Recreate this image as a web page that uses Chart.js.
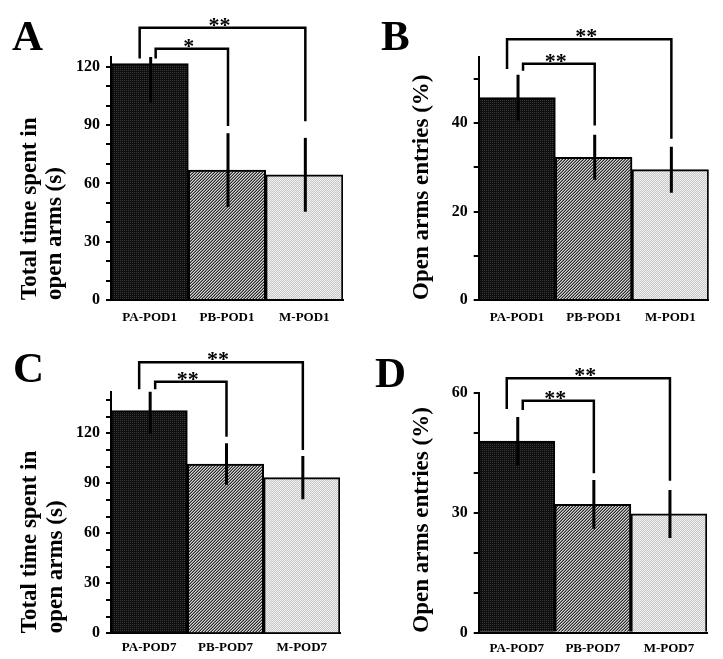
<!DOCTYPE html>
<html>
<head>
<meta charset="utf-8">
<script src="https://cdn.jsdelivr.net/npm/chart.js@4.4.1/dist/chart.umd.min.js"></script>
<style>
    body { margin: 0; background: #fff; }
    #wrap { position: relative; width: 723px; height: 659px; }
    canvas { position: absolute; }
</style>
</head>
<body>
<div id="wrap">
    <canvas id="chartA" width="362" height="330" style="left:0;top:0;"></canvas>
    <canvas id="chartB" width="361" height="330" style="left:362px;top:0;"></canvas>
    <canvas id="chartC" width="362" height="329" style="left:0;top:330px;"></canvas>
    <canvas id="chartD" width="361" height="329" style="left:362px;top:330px;"></canvas>
</div>
<script>
// groups
var groupsPOD1 = ['PA-POD1', 'PB-POD1', 'M-POD1'];
var groupsPOD7 = ['PA-POD7', 'PB-POD7', 'M-POD7'];

// means and error
var timePOD1 = [121.6, 66.8, 64.4];
var timePOD1Err = [20, 19, 19];
var entriesPOD1 = [45.8, 32.3, 29.5];
var entriesPOD1Err = [5.2, 5.1, 5.2];
var timePOD7 = [133.6, 101.6, 93.4];
var timePOD7Err = [13.6, 12.5, 13];
var entriesPOD7 = [47.9, 32.1, 29.7];
var entriesPOD7Err = [6, 6.1, 6];

// significance brackets: [from, to, level, left leg end, right leg end, label]
var sigA = [[0, 2, 140, 124.2, 92, '**'], [0, 1, 129.3, 124.2, 89.5, '*']];
var sigB = [[0, 2, 59, 52.3, 36.5, '**'], [0, 1, 53.5, 51.9, 39.5, '**']];
var sigC = [[0, 2, 162.6, 146.4, 110, '**'], [0, 1, 151, 146.4, 118, '**']];
var sigD = [[0, 2, 63.6, 55.9, 38, '**'], [0, 1, 58, 55.7, 39.85, '**']];

var timeTitle = ['Total time spent in', 'open arms (s)'];
var entriesTitle = 'Open arms entries (%)';

var FONT = "'Liberation Serif', 'Times New Roman', serif";

function makePattern(size, fn) {
    var c = document.createElement('canvas');
    c.width = size; c.height = size;
    var g = c.getContext('2d');
    for (var x = 0; x < size; x++) {
        for (var y = 0; y < size; y++) {
            g.fillStyle = fn(x, y);
            g.fillRect(x, y, 1, 1);
        }
    }
    return g.createPattern(c, 'repeat');
}

var hatchShades = ['#d4d4d4', '#828282', '#2c2c2c'];
var fillDark = makePattern(2, function (x, y) { return (x === 0 && y === 0) ? '#3a3a3a' : '#0e0e0e'; });
var fillHatch = makePattern(3, function (x, y) { return hatchShades[(x + y) % 3]; });
var fillLight = makePattern(2, function (x, y) { return ((x + y) % 2 === 0) ? '#f0f0f0' : '#c8c8c8'; });

var overlay = {
    id: 'overlay',
    afterDatasetsDraw: function (chart, args, o) {
        var ctx = chart.ctx, area = chart.chartArea;
        var xs = chart.scales.x, ys = chart.scales.y;
        ctx.save();
        // error bars, clipped at the plot top
        ctx.beginPath();
        ctx.rect(area.left, area.top, area.right - area.left, area.bottom - area.top);
        ctx.clip();
        ctx.strokeStyle = '#000';
        ctx.lineWidth = 3;
        for (var i = 0; i < o.means.length; i++) {
            var x = xs.getPixelForValue(i) + 1;
            ctx.beginPath();
            ctx.moveTo(x, ys.getPixelForValue(o.means[i] + o.errs[i]));
            ctx.lineTo(x, ys.getPixelForValue(o.means[i] - o.errs[i]));
            ctx.stroke();
        }
        ctx.restore();
    },
    afterDraw: function (chart, args, o) {
        var ctx = chart.ctx;
        var xs = chart.scales.x, ys = chart.scales.y;
        ctx.save();
        ctx.strokeStyle = '#000';
        ctx.fillStyle = '#000';
        ctx.lineWidth = 2.5;
        ctx.font = 'bold 22px ' + FONT;
        ctx.textAlign = 'center';
        ctx.textBaseline = 'alphabetic';
        o.sig.forEach(function (b) {
            var shift = b[1] === 2 ? -10 : 6;
            var x1 = xs.getPixelForValue(b[0]) + shift;
            var x2 = xs.getPixelForValue(b[1]) + 1;
            var yl = ys.getPixelForValue(b[2]);
            ctx.beginPath();
            ctx.moveTo(x1, ys.getPixelForValue(b[3]));
            ctx.lineTo(x1, yl);
            ctx.lineTo(x2, yl);
            ctx.lineTo(x2, ys.getPixelForValue(b[4]));
            ctx.stroke();
            ctx.fillText(b[5], (x1 + x2) / 2 - 3, yl + 4);
        });
        // panel letter
        ctx.font = 'bold 43px ' + FONT;
        ctx.textAlign = 'left';
        ctx.fillText(o.letter, o.letterX, o.letterY);
        ctx.restore();
    }
};

function makePanel(id, labels, means, errs, sig, p) {
    var ctx = document.getElementById(id).getContext('2d');
    return new Chart(ctx, {
        type: 'bar',
        data: {
            labels: labels,
            datasets: [
                {
                    data: means,
                    backgroundColor: [fillDark, fillHatch, fillLight],
                    borderColor: '#000',
                    borderWidth: 2,
                    barPercentage: 1,
                    categoryPercentage: 1
                }
            ]
        },
        options: {
            responsive: false,
            animation: false,
            events: [],
            layout: {
                padding: { left: 0, right: p.right, top: p.top, bottom: 0 }
            },
            plugins: {
                legend: { display: false },
                tooltip: { enabled: false },
                overlay: {
                    means: means, errs: errs, sig: sig,
                    letter: p.letter, letterX: p.letterX, letterY: p.letterY
                }
            },
            scales: {
                x: {
                    grid: { display: false, drawTicks: false },
                    border: { display: true, color: '#000', width: 2 },
                    ticks: {
                        color: '#000',
                        padding: p.xPad,
                        maxRotation: 0,
                        font: { family: FONT, size: 13, weight: 'bold' }
                    },
                    afterFit: function (scale) { scale.height = p.xHeight; }
                },
                y: {
                    min: 0,
                    max: p.yMax,
                    grid: {
                        display: true,
                        drawOnChartArea: false,
                        drawTicks: true,
                        tickLength: 5,
                        color: '#000',
                        lineWidth: 2
                    },
                    border: { display: true, color: '#000', width: 2 },
                    ticks: {
                        autoSkip: false,
                        color: '#000',
                        padding: 6,
                        font: { family: FONT, size: 16, weight: 'bold' },
                        callback: function (v) { return v % p.major === 0 ? v : ''; }
                    },
                    afterBuildTicks: function (scale) {
                        var t = [];
                        for (var v = 0; v <= p.yMax; v += 10) t.push({ value: v });
                        scale.ticks = t;
                    },
                    title: {
                        display: true,
                        text: p.title,
                        color: '#000',
                        align: 'start',
                        padding: { top: p.titlePad, bottom: 0 },
                        font: { family: FONT, size: 23, weight: 'bold', lineHeight: 1.09 }
                    },
                    afterFit: function (scale) { scale.width = p.yWidth; }
                }
            }
        },
        plugins: [overlay]
    });
}

makePanel('chartA', groupsPOD1, timePOD1, timePOD1Err, sigA, {
    yMax: 125, major: 30, title: timeTitle, titlePad: 17.5,
    yWidth: 111, right: 19, top: 57, xHeight: 30, xPad: 10,
    letter: 'A', letterX: 12, letterY: 50
});
makePanel('chartB', groupsPOD1, entriesPOD1, entriesPOD1Err, sigB, {
    yMax: 55, major: 20, title: entriesTitle, titlePad: 47.5,
    yWidth: 116.7, right: 14.3, top: 57, xHeight: 30, xPad: 10,
    letter: 'B', letterX: 19, letterY: 50
});
makePanel('chartC', groupsPOD7, timePOD7, timePOD7Err, sigC, {
    yMax: 145, major: 30, title: timeTitle, titlePad: 18,
    yWidth: 111, right: 22, top: 61.7, xHeight: 25.7, xPad: 7,
    letter: 'C', letterX: 13, letterY: 52
});
makePanel('chartD', groupsPOD7, entriesPOD7, entriesPOD7Err, sigD, {
    yMax: 60, major: 30, title: entriesTitle, titlePad: 47.5,
    yWidth: 116.7, right: 16, top: 62.7, xHeight: 26.3, xPad: 8,
    letter: 'D', letterX: 13, letterY: 57
});
</script>
</body>
</html>
